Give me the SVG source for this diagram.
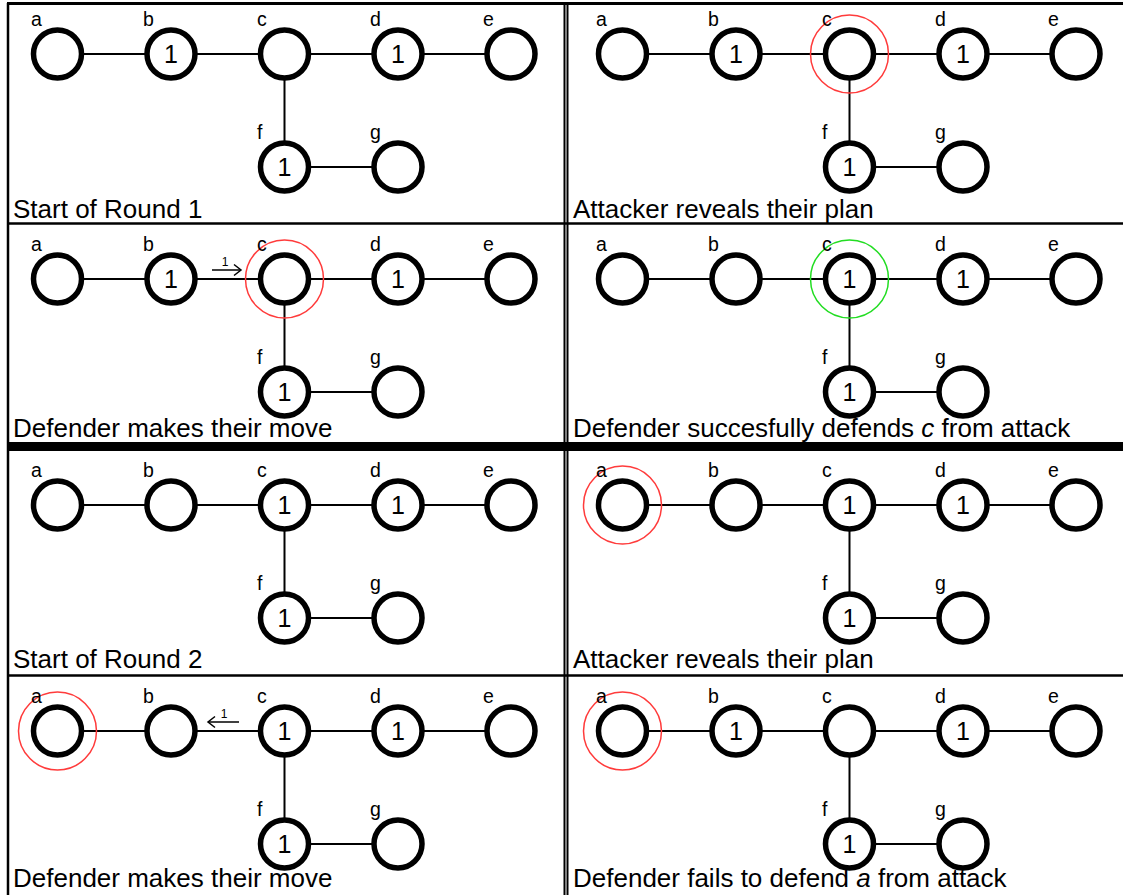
<svg xmlns="http://www.w3.org/2000/svg" xmlns:xlink="http://www.w3.org/1999/xlink" width="1123" height="895" viewBox="0 0 1123 895">
<style>
text{font-family:"Liberation Sans",Arial,sans-serif;fill:#000}
.node{fill:#fff;stroke:#000;stroke-width:5.5}
.edge{stroke:#000;stroke-width:2;fill:none}
.lbl{font-size:19.5px}
.num{font-size:25px;text-anchor:middle}
.cap{font-size:26px}
.red{fill:none;stroke:#ff3b3b;stroke-width:1.5}
.green{fill:none;stroke:#22dd22;stroke-width:1.5}
.border{stroke:#000;fill:none}
.arr{stroke:#000;stroke-width:1.5;fill:none}
.small{font-size:12px;text-anchor:middle}
</style>
<defs>
<g id="edges">
<line class="edge" x1="57.5" y1="54" x2="511" y2="54"/>
<line class="edge" x1="284.5" y1="54" x2="284.5" y2="167"/>
<line class="edge" x1="284.5" y1="167" x2="398" y2="167"/>
</g>
<g id="labels">
<text class="lbl" x="31" y="26">a</text>
<text class="lbl" x="143" y="26">b</text>
<text class="lbl" x="257" y="26">c</text>
<text class="lbl" x="370" y="26">d</text>
<text class="lbl" x="483" y="26">e</text>
<text class="lbl" x="257" y="138.5">f</text>
<text class="lbl" x="370" y="138.5">g</text>
</g>
</defs>

<g id="borders">
<line class="border" x1="7" y1="3.5" x2="1123" y2="3.5" stroke-width="3"/>
<line class="border" x1="8" y1="3" x2="8" y2="895" stroke-width="2.5"/>
<line class="border" x1="564.5" y1="3" x2="564.5" y2="895" stroke-width="2"/>
<line class="border" x1="567.5" y1="3" x2="567.5" y2="895" stroke-width="2"/>
<line class="border" x1="7" y1="223.5" x2="1123" y2="223.5" stroke-width="2.5"/>
<line class="border" x1="7" y1="446.5" x2="1123" y2="446.5" stroke-width="9"/>
<line class="border" x1="7" y1="675.5" x2="1123" y2="675.5" stroke-width="2.5"/>
</g>

<g id="connectors">
<use xlink:href="#edges" transform="translate(0,0)"/>
<use xlink:href="#edges" transform="translate(565,0)"/>
<use xlink:href="#edges" transform="translate(0,225)"/>
<use xlink:href="#edges" transform="translate(565,225)"/>
<use xlink:href="#edges" transform="translate(0,451)"/>
<use xlink:href="#edges" transform="translate(565,451)"/>
<use xlink:href="#edges" transform="translate(0,677)"/>
<use xlink:href="#edges" transform="translate(565,677)"/>
<g id="move-r1">
<line class="arr" x1="212" y1="270" x2="241" y2="270"/>
<polyline class="arr" points="234,264.5 241,270 234,275.5"/>
<text class="small" x="225" y="266">1</text>
</g>
<g id="move-r2">
<line class="arr" x1="208" y1="722" x2="239" y2="722"/>
<polyline class="arr" points="215,716.5 208,722 215,727.5"/>
<text class="small" x="224" y="718">1</text>
</g>
</g>

<!-- Panel 1: Start of Round 1 -->
<g id="panel1" transform="translate(0,0)">
<g id="p1-a"><circle class="node" cx="57.5" cy="54" r="24"/></g>
<g id="p1-b"><circle class="node" cx="171" cy="54" r="24"/><text class="num" x="171" y="63">1</text></g>
<g id="p1-c"><circle class="node" cx="284.5" cy="54" r="24"/></g>
<g id="p1-d"><circle class="node" cx="398" cy="54" r="24"/><text class="num" x="398" y="63">1</text></g>
<g id="p1-e"><circle class="node" cx="511" cy="54" r="24"/></g>
<g id="p1-f"><circle class="node" cx="284.5" cy="167" r="24"/><text class="num" x="284.5" y="176">1</text></g>
<g id="p1-g"><circle class="node" cx="398" cy="167" r="24"/></g>
<use xlink:href="#labels"/>
</g>

<!-- Panel 2: Attacker reveals (round 1) -->
<g id="panel2" transform="translate(565,0)">
<g id="p2-a"><circle class="node" cx="57.5" cy="54" r="24"/></g>
<g id="p2-b"><circle class="node" cx="171" cy="54" r="24"/><text class="num" x="171" y="63">1</text></g>
<g id="p2-c"><circle class="node" cx="284.5" cy="54" r="24"/><circle class="red" cx="284.5" cy="54" r="39"/></g>
<g id="p2-d"><circle class="node" cx="398" cy="54" r="24"/><text class="num" x="398" y="63">1</text></g>
<g id="p2-e"><circle class="node" cx="511" cy="54" r="24"/></g>
<g id="p2-f"><circle class="node" cx="284.5" cy="167" r="24"/><text class="num" x="284.5" y="176">1</text></g>
<g id="p2-g"><circle class="node" cx="398" cy="167" r="24"/></g>
<use xlink:href="#labels"/>
</g>

<!-- Panel 3: Defender makes move (round 1) -->
<g id="panel3" transform="translate(0,225)">
<g id="p3-a"><circle class="node" cx="57.5" cy="54" r="24"/></g>
<g id="p3-b"><circle class="node" cx="171" cy="54" r="24"/><text class="num" x="171" y="63">1</text></g>
<g id="p3-c"><circle class="node" cx="284.5" cy="54" r="24"/><circle class="red" cx="284.5" cy="54" r="39"/></g>
<g id="p3-d"><circle class="node" cx="398" cy="54" r="24"/><text class="num" x="398" y="63">1</text></g>
<g id="p3-e"><circle class="node" cx="511" cy="54" r="24"/></g>
<g id="p3-f"><circle class="node" cx="284.5" cy="167" r="24"/><text class="num" x="284.5" y="176">1</text></g>
<g id="p3-g"><circle class="node" cx="398" cy="167" r="24"/></g>
<use xlink:href="#labels"/>
</g>

<!-- Panel 4: Defender defends c -->
<g id="panel4" transform="translate(565,225)">
<g id="p4-a"><circle class="node" cx="57.5" cy="54" r="24"/></g>
<g id="p4-b"><circle class="node" cx="171" cy="54" r="24"/></g>
<g id="p4-c"><circle class="node" cx="284.5" cy="54" r="24"/><text class="num" x="284.5" y="63">1</text><circle class="green" cx="284.5" cy="54" r="39"/></g>
<g id="p4-d"><circle class="node" cx="398" cy="54" r="24"/><text class="num" x="398" y="63">1</text></g>
<g id="p4-e"><circle class="node" cx="511" cy="54" r="24"/></g>
<g id="p4-f"><circle class="node" cx="284.5" cy="167" r="24"/><text class="num" x="284.5" y="176">1</text></g>
<g id="p4-g"><circle class="node" cx="398" cy="167" r="24"/></g>
<use xlink:href="#labels"/>
</g>

<!-- Panel 5: Start of Round 2 -->
<g id="panel5" transform="translate(0,451)">
<g id="p5-a"><circle class="node" cx="57.5" cy="54" r="24"/></g>
<g id="p5-b"><circle class="node" cx="171" cy="54" r="24"/></g>
<g id="p5-c"><circle class="node" cx="284.5" cy="54" r="24"/><text class="num" x="284.5" y="63">1</text></g>
<g id="p5-d"><circle class="node" cx="398" cy="54" r="24"/><text class="num" x="398" y="63">1</text></g>
<g id="p5-e"><circle class="node" cx="511" cy="54" r="24"/></g>
<g id="p5-f"><circle class="node" cx="284.5" cy="167" r="24"/><text class="num" x="284.5" y="176">1</text></g>
<g id="p5-g"><circle class="node" cx="398" cy="167" r="24"/></g>
<use xlink:href="#labels"/>
</g>

<!-- Panel 6: Attacker reveals (round 2) -->
<g id="panel6" transform="translate(565,451)">
<g id="p6-a"><circle class="node" cx="57.5" cy="54" r="24"/><circle class="red" cx="57.5" cy="54" r="39"/></g>
<g id="p6-b"><circle class="node" cx="171" cy="54" r="24"/></g>
<g id="p6-c"><circle class="node" cx="284.5" cy="54" r="24"/><text class="num" x="284.5" y="63">1</text></g>
<g id="p6-d"><circle class="node" cx="398" cy="54" r="24"/><text class="num" x="398" y="63">1</text></g>
<g id="p6-e"><circle class="node" cx="511" cy="54" r="24"/></g>
<g id="p6-f"><circle class="node" cx="284.5" cy="167" r="24"/><text class="num" x="284.5" y="176">1</text></g>
<g id="p6-g"><circle class="node" cx="398" cy="167" r="24"/></g>
<use xlink:href="#labels"/>
</g>

<!-- Panel 7: Defender makes move (round 2) -->
<g id="panel7" transform="translate(0,677)">
<g id="p7-a"><circle class="node" cx="57.5" cy="54" r="24"/><circle class="red" cx="57.5" cy="54" r="39"/></g>
<g id="p7-b"><circle class="node" cx="171" cy="54" r="24"/></g>
<g id="p7-c"><circle class="node" cx="284.5" cy="54" r="24"/><text class="num" x="284.5" y="63">1</text></g>
<g id="p7-d"><circle class="node" cx="398" cy="54" r="24"/><text class="num" x="398" y="63">1</text></g>
<g id="p7-e"><circle class="node" cx="511" cy="54" r="24"/></g>
<g id="p7-f"><circle class="node" cx="284.5" cy="167" r="24"/><text class="num" x="284.5" y="176">1</text></g>
<g id="p7-g"><circle class="node" cx="398" cy="167" r="24"/></g>
<use xlink:href="#labels"/>
</g>

<!-- Panel 8: Defender fails -->
<g id="panel8" transform="translate(565,677)">
<g id="p8-a"><circle class="node" cx="57.5" cy="54" r="24"/><circle class="red" cx="57.5" cy="54" r="39"/></g>
<g id="p8-b"><circle class="node" cx="171" cy="54" r="24"/><text class="num" x="171" y="63">1</text></g>
<g id="p8-c"><circle class="node" cx="284.5" cy="54" r="24"/></g>
<g id="p8-d"><circle class="node" cx="398" cy="54" r="24"/><text class="num" x="398" y="63">1</text></g>
<g id="p8-e"><circle class="node" cx="511" cy="54" r="24"/></g>
<g id="p8-f"><circle class="node" cx="284.5" cy="167" r="24"/><text class="num" x="284.5" y="176">1</text></g>
<g id="p8-g"><circle class="node" cx="398" cy="167" r="24"/></g>
<use xlink:href="#labels"/>
</g>

<g id="captions">
<text class="cap" x="13" y="218">Start of Round 1</text>
<text class="cap" x="573" y="218">Attacker reveals their plan</text>
<text class="cap" x="13" y="437">Defender makes their move</text>
<text class="cap" x="573" y="437">Defender succesfully defends <tspan font-style="italic">c</tspan> from attack</text>
<text class="cap" x="13" y="668">Start of Round 2</text>
<text class="cap" x="573" y="668">Attacker reveals their plan</text>
<text class="cap" x="13" y="887">Defender makes their move</text>
<text class="cap" x="573" y="887">Defender fails to defend <tspan font-style="italic">a</tspan> from attack</text>
</g>
</svg>
